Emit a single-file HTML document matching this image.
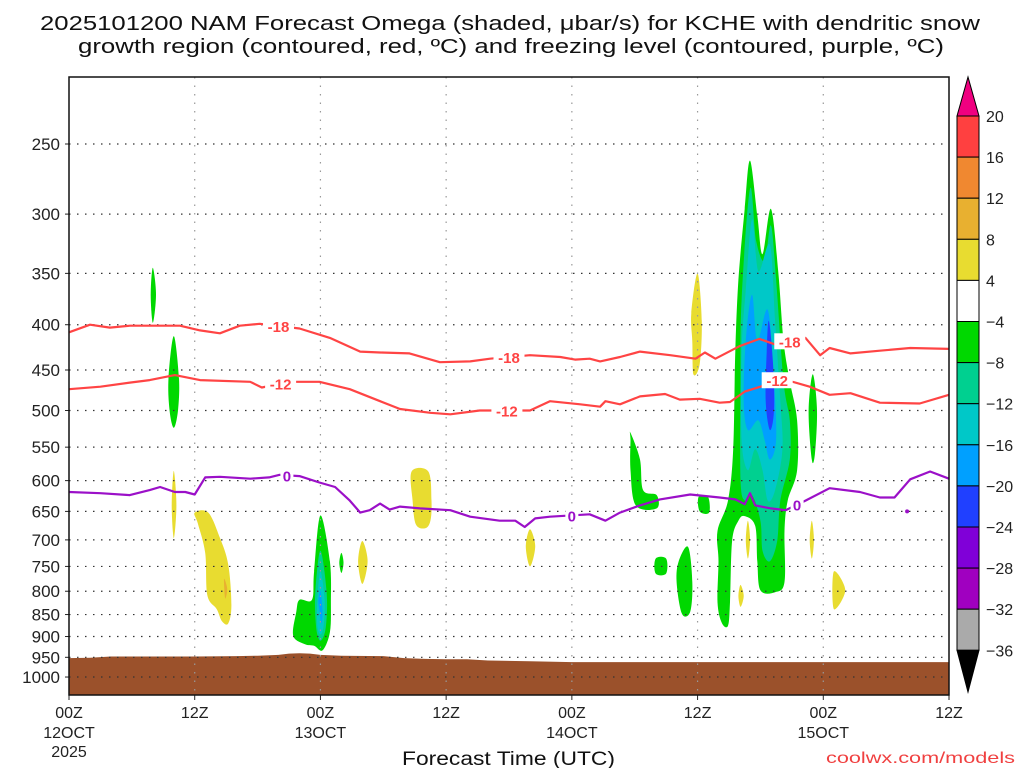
<!DOCTYPE html>
<html><head><meta charset="utf-8"><style>
html,body{margin:0;padding:0;background:#fff;}
svg{display:block;font-family:"Liberation Sans",sans-serif;}
</style></head><body>
<svg id="chart" width="1024" height="768" viewBox="0 0 1024 768" xmlns="http://www.w3.org/2000/svg">
<text x="40" y="30" font-size="20" textLength="940" lengthAdjust="spacingAndGlyphs" fill="#111">2025101200 NAM Forecast Omega (shaded, μbar/s) for KCHE with dendritic snow</text>
<text x="78" y="53" font-size="20" textLength="866" lengthAdjust="spacingAndGlyphs" fill="#111">growth region (contoured, red, ºC) and freezing level (contoured, purple, ºC)</text>
<g id="plot"></g>
<text x="402" y="765" font-size="19" textLength="213" lengthAdjust="spacingAndGlyphs" fill="#111">Forecast Time (UTC)</text>
<text x="826" y="763" font-size="16" textLength="189" lengthAdjust="spacingAndGlyphs" fill="#f04040">coolwx.com/models</text>
</svg>
<script>
// ---- data ----
const levels = [250,300,350,400,450,500,550,600,650,700,750,800,850,900,950,1000];
const xTickHours = [0,12,24,36,48,60,72,84];
const xTickLabels = ["00Z","12Z","00Z","12Z","00Z","12Z","00Z","12Z"];
const xDateLabels = ["12OCT","","13OCT","","14OCT","","15OCT",""];
const cbLabels = ["20","16","12","8","4","-4","-8","-12","-16","-20","-24","-28","-32","-36"];
const cbColors = ["#ff4040","#f08830","#e8b030","#e8dc30","#ffffff","#00d800","#00d090","#00c8c8","#00a0ff","#2040ff","#8000d8","#a000c0","#aaaaaa"];
const groundHours = [0,2,4,8,12,16,18,20,21,22,23,24,26,30,32,34,36,38,40,44,48,52,56,60,64,68,72,76,80,84];
const groundP     = [952,951,948,948,948,947,946,944,941,940,941,944,946,947,952,954,955,955,958,960,962,962,962,962,962,962,962,962,962,962];
const line18Hours = [0,2,3.9,5.8,10.6,12.5,14.4,16.3,18.2,22,24.9,27.8,29.7,32.5,35.4,38.3,40.2,44,46.9,48.3,49.7,50.7,52.6,54.5,57.4,59.8,60.7,61.7,64,65.9,67.4,70.3,71.7,72.6,74.6,77.4,80.3,84];
const line18P     = [408,400,403,401,401,406,409,401,399,404,414,429,430,431,441,440,437,433,435,438,437,440,435,429,433,437,430,437,423,415,421,414,433,425,431,428,425,426];
const line12Hours = [0,3,5.8,7.7,10.1,12.5,17.3,18.4,21.1,23.9,26.8,29.7,31.6,34.5,36.4,39.2,44,45.9,48.8,50.7,51.2,52.6,54.5,56.9,58.3,60.2,62.1,63.1,64.5,66,67.4,68.8,70.7,72.6,74.6,77.4,81.2,84];
const line12P     = [473,470,465,462,456,462,464,471,464,464,473,488,498,503,505,500,500,488,492,495,488,492,482,479,486,485,490,489,476,470,462,463,470,480,478,490,491,480];
const line0Hours  = [0,3,5.8,7.7,8.7,10.1,11.1,12,13,14.4,17.3,19.1,20.1,22,23.9,25.4,26.8,27.8,28.7,29.7,30.6,31.6,33.5,36.4,38.3,41.1,42.6,43.5,44.5,45.9,49.7,51.2,52.6,54.5,56.4,59.3,62.1,63.6,64.5,65,65.5,67,68.4,70.3,72.6,75.5,77.4,78.8,80.3,82.2,84];
const line0P      = [618,620,623,615,610,618,618,622,595,594,597,595,591,593,603,610,632,652,648,637,647,642,645,648,659,666,666,677,662,659,655,666,652,640,630,622,627,630,638,620,640,645,648,632,612,618,627,627,598,586,597];
const blobLevel = [];
const blobHours = [];
const blobP = [];
function addBlob(c,h,p){blobLevel.push(c);blobHours.push(h);blobP.push(p);}
addBlob(5,[7.8,8.0,8.3,8.0],[370,345,370,398]);
addBlob(5,[10.0,10.5,10.4,10.0,9.6,9.5],[412,460,500,523,500,460]);
addBlob(3,[10.0,10.25,10.0,9.8],[585,640,697,640]);
addBlob(3,[12.0,13.3,14.4,15.2,15.5,15.2,14.6,14.1,13.2,13.0,12.3],[652,652,696,746,829,870,865,838,808,724,671]);
addBlob(2,[14.8,15.1,14.9],[775,795,815]);
addBlob(5,[24.0,24.9,25.0,24.9,24.2,23.4,22.5,21.4,21.7,22.0,23.2,23.4],[657,740,823,890,933,922,918,898,844,818,818,760]);
addBlob(6,[24.0,24.6,24.5,24.0,23.6,23.5],[720,805,880,910,880,805]);
addBlob(7,[24.0,24.4,24.3,24.0,23.7,23.7],[760,820,875,895,875,820]);
addBlob(8,[24.0,24.2,24.1,23.9,23.8],[800,840,870,840,820]);
addBlob(5,[26.0,26.2,26.0,25.8],[724,743,763,743]);
addBlob(3,[28.0,28.5,28.0,27.6],[702,740,785,740]);
addBlob(3,[32.7,34.3,34.6,34.5,34.0,33.1,32.8],[586,586,632,666,679,672,632]);
addBlob(3,[44.0,44.5,44.0,43.6],[681,712,750,712]);
addBlob(3,[60.0,60.4,60.2,59.6,59.5,59.4],[350,396,443,455,418,388]);
addBlob(5,[53.6,54.5,54.8,56.1,56.1,54.1,53.6,53.6],[530,568,615,623,645,640,584,540]);
addBlob(5,[60.1,61.0,61.1,60.2],[626,626,652,650]);
addBlob(5,[56.0,57.0,57.0,56.0],[735,735,764,764]);
addBlob(5,[59.1,59.5,59.3,58.5,58.0,58.2],[713,781,844,848,781,740]);
addBlob(5,[71.0,71.4,71.2,70.9,70.6],[455,500,560,568,500]);
addBlob(3,[64.8,65.0,64.8,64.6],[666,700,735,700]);
addBlob(3,[64.1,64.4,64.1,63.9],[787,810,833,810]);
addBlob(3,[70.9,71.1,70.9,70.7],[666,700,735,700]);
addBlob(3,[73.0,74.1,73.0],[760,798,838]);
addBlob(5,[65.0,65.7,66.2,67.0,67.7,68.2,68.8,69.5,69.5,68.6,68.3,68.3,67.4,66.0,65.7,65.5,64.5,63.9,63.3,63.1,62.9,62.3,61.9,62.0,61.9,62.9,63.4,63.6,63.9,64.5],
 [261,301,333,296,348,417,463,513,584,632,684,781,802,798,740,675,658,666,702,823,875,868,823,740,684,632,553,429,356,296]);
addBlob(6,[65.0,65.6,66.4,67.0,67.5,68.2,68.8,68.8,67.9,67.6,66.9,66.2,66.0,65.2,64.5,64.1,64.1,64.2],
 [281,322,339,309,356,463,513,568,632,702,740,720,666,623,632,598,463,375]);
addBlob(7,[65.2,65.8,66.9,67.4,67.9,68.1,67.4,66.7,66.2,65.5,64.8,64.2,64.2,64.6],
 [304,348,325,396,488,553,615,632,584,553,584,540,429,365]);
addBlob(8,[65.2,65.7,66.7,67.3,67.5,66.9,66.4,65.8,64.8,64.4,64.6],
 [370,417,385,463,540,568,540,513,526,488,417]);
addBlob(9,[66.8,67.2,67.3,66.9,66.5,66.6],[396,442,500,526,488,429]);
const labels18 = [[20,"-18"],[42,"-18"],[68.8,"-18"]];
const labels12 = [[20.2,"-12"],[41.8,"-12"],[67.6,"-12"]];
const labels0  = [[20.8,"0"],[48,"0"],[69.5,"0"]];
const dotHours=[80.0], dotP=[650];

// ---- axes ----
const X0=69,X1=949,Y0=77,Y1=695,Hmax=84;
const LN0=Math.log(250), K=384.5, YREF=144;
const xs=h=>X0+h*(X1-X0)/Hmax;
const ys=p=>YREF+(Math.log(p)-LN0)*K;
const NS="http://www.w3.org/2000/svg";
const plot=document.getElementById('plot');
function mk(tag,attrs,parent){const e=document.createElementNS(NS,tag);for(const k in attrs)e.setAttribute(k,attrs[k]);(parent||plot).appendChild(e);return e;}
function interp(hs,ps,h){for(let i=0;i<hs.length-1;i++){if(h>=hs[i]&&h<=hs[i+1]){const t=(h-hs[i])/(hs[i+1]-hs[i]);return ps[i]+t*(ps[i+1]-ps[i]);}}return ps[ps.length-1];}
function smoothClosed(pts){
  const n=pts.length; let d='M'+pts[0][0].toFixed(1)+','+pts[0][1].toFixed(1);
  for(let i=0;i<n;i++){
    const p0=pts[(i-1+n)%n],p1=pts[i],p2=pts[(i+1)%n],p3=pts[(i+2)%n];
    const c1=[p1[0]+(p2[0]-p0[0])/6,p1[1]+(p2[1]-p0[1])/6];
    const c2=[p2[0]-(p3[0]-p1[0])/6,p2[1]-(p3[1]-p1[1])/6];
    d+=' C'+c1[0].toFixed(1)+','+c1[1].toFixed(1)+' '+c2[0].toFixed(1)+','+c2[1].toFixed(1)+' '+p2[0].toFixed(1)+','+p2[1].toFixed(1);
  }
  return d+' Z';
}

blobLevel.forEach((c,i)=>{
  const pts=blobHours[i].map((h,j)=>[xs(h),ys(blobP[i][j])]);
  const e=mk('path',{d:smoothClosed(pts),fill:cbColors[c]});
  
  
});
{
  let d='M'+xs(0)+','+Y1;
  groundHours.forEach((h,i)=>{d+=' L'+xs(h).toFixed(1)+','+ys(groundP[i]).toFixed(1);});
  d+=' L'+xs(Hmax)+','+Y1+' Z';
  const e=mk('path',{d:d,fill:'#9b512b'});
  
  
}
levels.forEach(p=>{
  const y=ys(p);
  const g=mk('line',{x1:X0,x2:X1,y1:y,y2:y,stroke:'#333','stroke-width':1.2,'stroke-dasharray':'1.5 6.5'});
  
  
  const t=mk('text',{x:60,y:y+6,'font-size':17,'text-anchor':'end',fill:'#222'});
  t.textContent=p;
  
  
  const tk=mk('line',{x1:X0-4,x2:X0,y1:y,y2:y,stroke:'#222'});
  
  
});
xTickHours.forEach((h,i)=>{
  const x=xs(h);
  if(i>0&&i<xTickHours.length-1){
    const g=mk('line',{x1:x,x2:x,y1:Y0,y2:Y1,stroke:'#999','stroke-width':1.2,'stroke-dasharray':'1.5 7'});
    
    
  }
  const tk=mk('line',{x1:x,x2:x,y1:Y1,y2:Y1+5,stroke:'#222'});
  
  
  const t=mk('text',{x:x,y:718,'font-size':16,'text-anchor':'middle',fill:'#222'});
  t.textContent=xTickLabels[i];
  
  
  if(xDateLabels[i]){
    const t2=mk('text',{x:x,y:738,'font-size':16,'text-anchor':'middle',fill:'#222'});
    t2.textContent=xDateLabels[i];
    
    
  }
});
{const t=mk('text',{x:xs(0),y:757,'font-size':16,'text-anchor':'middle',fill:'#222'});t.textContent='2025';

}

function drawLine(hs,ps,color,name,labs){
  const d=hs.map((h,i)=>(i?'L':'M')+xs(h).toFixed(1)+','+ys(ps[i]).toFixed(1)).join(' ');
  const e=mk('path',{d:d,fill:'none',stroke:color,'stroke-width':2.2,'stroke-linejoin':'round'});
  
  
  labs.forEach(l=>{
    const x=xs(l[0]), y=ys(interp(hs,ps,l[0]));
    const w=l[1].length*9+4;
    const r=mk('rect',{x:x-w/2,y:y-8,width:w,height:16,fill:'#fff'});
    
    
    const t=mk('text',{x:x,y:y+6,'font-size':15,'font-weight':'bold','text-anchor':'middle',fill:color});
    t.textContent=l[1];
    
    
  });
}
drawLine(line18Hours,line18P,'#ff4444','contour-minus18',labels18);
drawLine(line12Hours,line12P,'#ff4444','contour-minus12',labels12);
drawLine(line0Hours,line0P,'#9b10c8','freezing-level-contour',labels0);
dotHours.forEach((h,i)=>{const c=mk('circle',{cx:xs(h),cy:ys(dotP[i]),r:2,fill:'#9b10c8'});

});

{const f=mk('rect',{x:X0,y:Y0,width:X1-X0,height:Y1-Y0,fill:'none',stroke:'#111','stroke-width':1.5});

}

const CBX=957,CBW=22,CBT=116,CBH=41.1;
{const t=mk('polygon',{points:`${CBX},${CBT} ${CBX+CBW},${CBT} ${CBX+CBW/2},77`,fill:'#f00080',stroke:'#000'});

}
cbColors.forEach((c,i)=>{
  const r=mk('rect',{x:CBX,y:CBT+i*CBH,width:CBW,height:CBH,fill:c,stroke:'#000','stroke-width':1});
  
  
});
{const yb=CBT+cbColors.length*CBH;
const t=mk('polygon',{points:`${CBX},${yb} ${CBX+CBW},${yb} ${CBX+CBW/2},692`,fill:'#000',stroke:'#000'});

}
cbLabels.forEach((l,i)=>{
  const t=mk('text',{x:986,y:CBT+i*CBH+6,'font-size':16,fill:'#222'});
  t.textContent=l.replace('-','−');
  
  
});
</script>
</body></html>
